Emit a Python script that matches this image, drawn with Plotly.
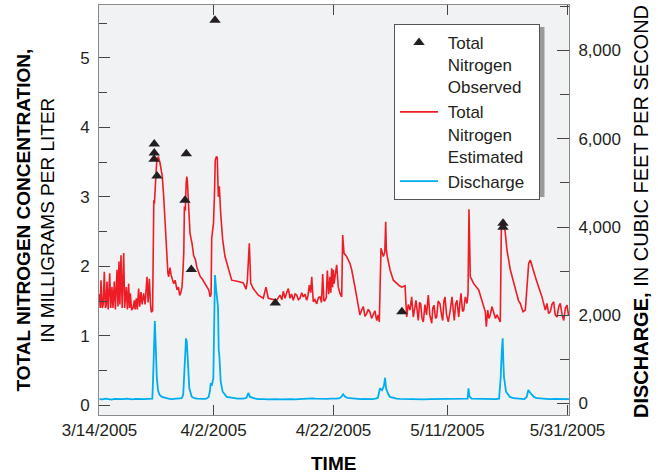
import pandas as pd
import plotly.graph_objects as go

# ---------------- data (days after 3/14/2005, values) ----------------
base_date = pd.Timestamp("2005-03-14")

tn_est_days = [
    0.00, 0.12, 0.25, 0.45, 0.62, 0.80, 0.98, 1.10, 1.25, 1.45, 1.70, 1.88, 2.08, 2.25, 2.47, 2.65,
    2.92, 3.08, 3.25, 3.40, 3.58, 3.78, 4.03, 4.20, 4.47, 4.65, 4.86, 5.00, 5.14, 5.35, 5.60, 5.81,
    5.95, 6.14, 6.30, 6.53, 6.70, 6.92, 7.10, 7.36, 7.60, 7.92, 8.10, 8.31, 8.50, 8.64,
    8.85, 8.97, 9.05, 9.15, 9.25, 9.40, 9.53, 9.80, 10.08, 10.47, 10.70, 10.97, 11.25, 11.40, 11.53,
    11.75, 11.92, 12.10, 12.37, 12.60, 12.92, 13.15, 13.37, 13.55, 13.75, 13.92,
    14.05, 14.15, 14.30, 14.45, 14.55, 14.65, 14.80, 15.08, 15.25, 15.42, 15.70, 15.97, 16.25, 16.53,
    16.80, 17.10, 17.37, 17.70, 18.00, 18.20, 18.45, 18.60, 18.70, 18.85, 19.00, 19.15, 19.30, 19.50,
    19.63, 19.80, 19.97, 20.20, 20.53, 20.92, 21.47, 22.03, 23.13, 23.97, 24.42, 24.63, 24.97, 25.20,
    25.63, 26.47, 27.30, 27.75, 28.13, 28.97, 29.53,
    30.08, 30.40, 30.63, 30.92, 31.20, 31.47, 31.75, 32.00, 32.30, 32.60, 32.87, 33.15, 33.42, 33.70,
    33.97, 34.25, 34.53, 34.75, 34.97, 35.20, 35.37, 35.63, 35.90, 36.20, 36.50, 36.75, 37.00, 37.20,
    37.40, 37.58, 37.80, 37.97, 38.20, 38.42, 38.55, 38.70, 38.85, 38.97, 39.10, 39.25, 39.53, 39.80,
    40.08, 40.37, 40.53, 40.75, 41.20, 41.75, 42.03, 42.58, 43.13, 43.40, 43.70, 43.97, 44.25, 44.53,
    44.80, 45.08, 45.35, 45.63, 45.90, 46.20, 46.45, 46.63, 46.75, 46.92, 47.30, 47.55, 47.70, 47.80,
    47.97, 48.42, 48.97, 49.53, 50.00, 50.37, 50.92, 51.20, 51.45, 51.75, 52.03, 52.30, 52.50, 52.75,
    53.13, 53.35, 53.53, 53.75, 53.97, 54.25, 54.50, 54.80, 55.05, 55.37, 55.55, 55.75, 56.00, 56.20,
    56.45, 56.75, 57.00, 57.20, 57.40, 57.58, 57.85, 58.13, 58.47, 58.75, 59.13, 59.35, 59.58, 59.87,
    60.05, 60.25, 60.50, 60.70, 60.97, 61.25, 61.42, 61.58, 61.80, 62.37, 63.20, 63.75, 64.30, 64.47,
    64.70, 64.90, 65.13, 65.40, 65.70, 66.00, 66.25, 66.53, 66.80, 66.97, 67.20, 67.37, 67.63, 67.92,
    68.47, 69.03, 69.58, 69.85, 70.13, 70.58, 70.97, 71.25, 71.53, 71.80, 72.08, 72.35, 72.63, 73.20,
    73.75, 74.30, 74.58, 74.85, 75.13, 75.40, 75.70, 75.95, 76.25, 76.55, 76.80, 77.10, 77.37, 77.65,
    77.92, 78.15, 78.37,
]
tn_est_mgL = [
    1.60, 1.40, 1.80, 1.40, 1.45, 1.92, 1.40, 1.42, 1.78, 1.38, 1.90, 1.40, 1.70, 1.40, 1.78, 1.38,
    1.95, 1.42, 2.07, 1.45, 2.16, 1.40, 2.19, 1.40, 1.70, 1.38, 1.75, 1.40, 1.61, 1.37, 1.40, 1.51,
    1.38, 1.54, 1.38, 1.68, 1.42, 1.63, 1.45, 1.61, 1.45, 1.85, 1.48, 1.82, 1.45, 1.34,
    1.36, 2.80, 2.95, 2.90, 3.17, 3.30, 3.50, 3.58, 3.49, 3.29, 3.00, 2.52, 1.95, 1.90, 1.85,
    1.98, 1.88, 1.82, 1.75, 1.80, 1.66, 1.70, 1.58, 1.62, 1.70, 1.95,
    2.20, 2.86, 2.80, 3.20, 3.29, 3.22, 2.95, 2.48, 2.40, 2.33, 2.15, 2.10, 1.98, 1.90,
    1.85, 1.82, 1.78, 1.74, 1.68, 1.66, 1.56, 1.60, 2.40, 2.52, 2.62, 3.00, 3.53, 3.58,
    3.56, 3.00, 3.15, 2.76, 2.38, 2.14, 1.95, 1.80, 1.78, 1.76, 1.67, 1.78, 2.33, 1.76,
    1.68, 1.585, 1.54, 1.70, 1.54, 1.52, 1.51,
    1.585, 1.52, 1.64, 1.54, 1.62, 1.68, 1.54, 1.60, 1.51, 1.60, 1.585, 1.52, 1.54, 1.62,
    1.56, 1.60, 1.51, 1.58, 1.73, 1.62, 1.85, 1.49, 1.52, 1.46, 1.55, 1.56, 1.48, 1.89,
    1.50, 1.51, 1.55, 1.94, 1.60, 1.85, 1.62, 1.97, 1.70, 1.95, 1.75, 1.85, 2.02, 1.70,
    1.61, 1.56, 2.45, 2.19, 2.14, 2.04, 1.95, 1.70, 1.44, 1.30, 1.37, 1.42, 1.28, 1.32,
    1.38, 1.34, 1.25, 1.30, 1.36, 1.22, 1.30, 1.20, 1.61, 2.26, 2.14, 2.20, 2.64, 2.25,
    2.14, 1.95, 1.80, 1.75, 1.72, 1.70, 1.72, 1.27, 1.45, 1.37, 1.56, 1.27, 1.40, 1.51,
    1.22, 1.48, 1.46, 1.25, 1.20, 1.45, 1.30, 1.585, 1.30, 1.18, 1.40, 1.44, 1.25, 1.27,
    1.50, 1.46, 1.30, 1.22, 1.50, 1.56, 1.30, 1.20, 1.37, 1.56, 1.22, 1.45, 1.51, 1.27,
    1.45, 1.61, 1.35, 1.37, 1.56, 1.465, 1.61, 2.82, 1.85, 1.75, 1.66, 1.51, 1.345, 1.13,
    1.37, 1.25, 1.30, 1.42, 1.345, 1.25, 1.30, 1.25, 1.20, 2.52, 2.60, 2.67, 2.48, 2.23,
    1.95, 1.75, 1.56, 1.50, 1.465, 1.345, 1.37, 1.75, 2.04, 2.09, 2.00, 1.95, 1.85, 1.70,
    1.56, 1.37, 1.465, 1.32, 1.345, 1.45, 1.49, 1.30, 1.27, 1.42, 1.465, 1.30, 1.22, 1.40,
    1.44, 1.30, 1.35,
]

q_days = [
    0.0, 0.5, 1.0, 1.5, 2.0, 2.5, 3.0, 3.5, 4.0, 4.5, 5.0, 5.5, 6.0, 6.5, 7.0, 7.5, 8.0, 8.5,
    8.80, 8.92, 9.00, 9.12, 9.22, 9.32, 9.45, 9.55, 9.75, 10.0, 10.4, 11.0, 11.5, 12.0, 12.5, 13.0,
    13.5, 13.7, 13.95, 14.08, 14.25, 14.42, 14.55, 14.63, 14.80, 14.97, 15.37, 15.80, 16.3, 16.8,
    17.3, 17.8, 18.2, 18.42, 18.53, 18.75, 18.97, 19.13, 19.25, 19.42, 19.58, 19.75, 19.87, 19.97,
    20.20, 20.53, 21.20, 21.8, 22.5, 23.0, 23.5, 24.0, 24.5, 24.8, 25.1, 25.6, 26.0, 26.5, 27.0,
    27.5, 28.0, 28.5, 29.0, 29.5, 30.0, 30.5, 31.0, 31.5, 32.0, 32.5, 33.0, 33.5, 34.0, 34.5, 35.0,
    35.5, 36.0, 36.5, 37.0, 37.5, 38.0, 38.5, 39.0, 39.5, 40.0, 40.3, 40.6, 40.9, 41.3, 41.8, 42.3,
    43.0, 43.5, 44.0, 44.5, 45.0, 45.5, 46.0, 46.4, 46.75, 47.1, 47.4, 47.6, 47.75, 47.87, 48.1,
    48.4, 49.0, 49.5, 50.0, 51.0, 52.0, 53.0, 54.0, 55.0, 56.0, 57.0, 58.0, 59.0, 60.0, 61.0,
    61.35, 61.5, 61.65, 62.0, 63.0, 64.0, 65.0, 66.0, 66.6, 66.87, 67.05, 67.2, 67.32, 67.42, 67.75,
    68.4, 69.0, 70.0, 70.8, 71.2, 71.47, 71.75, 72.03, 72.4, 72.87, 73.5, 74.0, 75.0, 76.0, 77.0,
    78.0, 78.37,
]
q_cfs = [
    100, 95, 110, 100, 90, 105, 100, 95, 100, 110, 100, 95, 105, 100, 95, 100, 105, 100,
    110, 500, 870, 1300, 1870, 1500, 800, 600, 300, 200, 150, 120, 110, 100, 105, 100,
    110, 120, 200, 570, 1325, 1477, 1400, 1200, 797, 344, 154, 120, 110, 100,
    105, 110, 150, 300, 457, 430, 570, 1930, 2912, 2610, 2307, 2190, 1212, 1100,
    495, 267, 150, 130, 120, 110, 105, 110, 130, 240, 150, 120, 110, 100, 105,
    100, 95, 100, 105, 100, 95, 100, 105, 100, 100, 95, 100, 105, 100, 110, 105,
    115, 110, 105, 110, 100, 105, 110, 105, 110, 120, 150, 210, 160, 130, 120, 110,
    105, 100, 105, 100, 95, 100, 110, 130, 345, 300, 400, 585, 350, 300, 220,
    150, 120, 110, 105, 100, 100, 100, 95, 100, 100, 100, 95, 100, 100, 100,
    110, 345, 160, 110, 105, 100, 100, 100, 110, 608, 1200, 1477, 900, 600, 267,
    150, 120, 105, 100, 150, 306, 250, 200, 150, 120, 110, 105, 100, 105, 100,
    100, 100,
]

tn_obs_days = [9.13, 9.13, 9.10, 9.58, 14.47, 14.25, 15.30, 19.25, 29.30, 50.40, 67.25, 67.25]
tn_obs_mgL = [3.76, 3.63, 3.54, 3.30, 3.62, 2.95, 1.955, 5.54, 1.47, 1.345, 2.62, 2.56]

x_tick_dates = ["2005-03-14", "2005-04-02", "2005-04-22", "2005-05-11", "2005-05-31"]
x_tick_text = ["3/14/2005", "4/2/2005", "4/22/2005", "5/11/2005", "5/31/2005"]
y_tick_vals = [0, 1, 2, 3, 4, 5]
y2_tick_vals = [0, 2000, 4000, 6000, 8000]
y2_tick_text = ["0", "2,000", "4,000", "6,000", "8,000"]

# ---------------- figure ----------------
def to_dates(days):
    return base_date + pd.to_timedelta(days, unit="D")

FONT = "Liberation Sans, Arial, sans-serif"
RED = "#EE1C25"
BLUE = "#00AEEF"
INK = "#231F20"

fig = go.Figure()
fig.add_trace(go.Scatter(
    x=to_dates(q_days), y=q_cfs, yaxis="y2", mode="lines",
    name="&nbsp;Discharge&nbsp;&nbsp;",
    line=dict(color=BLUE, width=1.8), legendrank=3))
fig.add_trace(go.Scatter(
    x=to_dates(tn_est_days), y=tn_est_mgL, mode="lines",
    name="&nbsp;Total<br>&nbsp;Nitrogen<br>&nbsp;Estimated",
    line=dict(color=RED, width=1.6), legendrank=2))
fig.add_trace(go.Scatter(
    x=to_dates(tn_obs_days), y=tn_obs_mgL, mode="markers",
    name="&nbsp;Total<br>&nbsp;Nitrogen<br>&nbsp;Observed",
    marker=dict(symbol="triangle-up", size=10, color=INK), legendrank=1))

tick_font = dict(family=FONT, size=17, color=INK)
PX_W, PX_H = 470, 410
def px_x(p):
    return (p - 99) / PX_W
def px_y(p):
    return (415 - p) / PX_H

fig.update_layout(
    width=658, height=475,
    margin=dict(l=99, r=89, t=5, b=60),
    paper_bgcolor="white",
    plot_bgcolor="#F1F2F4",
    font=dict(family=FONT, size=17, color=INK),
    showlegend=True,
    legend=dict(
        x=px_x(394), y=px_y(24), xanchor="left", yanchor="top",
        bgcolor="white", bordercolor="#555555", borderwidth=1,
        font=dict(family=FONT, size=17, color=INK),
        valign="top", tracegroupgap=0, itemwidth=38,
    ),
    xaxis=dict(
        type="date",
        range=["2005-03-13 22:00", "2005-05-31 06:00"],
        tickvals=x_tick_dates, ticktext=x_tick_text,
        ticks="inside", ticklen=10, tickcolor="#444444", tickwidth=1,
        showline=True, linecolor="#8A8A8A", linewidth=1, mirror="ticks",
        showgrid=False, zeroline=False, tickfont=tick_font,
    ),
    yaxis=dict(
        range=[-0.14, 5.76],
        tickvals=y_tick_vals,
        ticks="inside", ticklen=11, tickcolor="#444444", tickwidth=1,
        minor=dict(tickvals=[0.5, 1.5, 2.5, 3.5, 4.5, 5.5], ticks="inside", ticklen=8,
                   tickcolor="#444444", showgrid=False),
        showline=True, linecolor="#8A8A8A", linewidth=1,
        showgrid=False, zeroline=False, tickfont=tick_font, ticklabelstandoff=5,
    ),
    yaxis2=dict(
        overlaying="y", side="right",
        range=[-260, 9031],
        tickvals=y2_tick_vals, ticktext=y2_tick_text,
        ticks="inside", ticklen=12, tickcolor="#444444", tickwidth=1,
        minor=dict(tickvals=[1000, 3000, 5000, 7000, 9000], ticks="inside", ticklen=9,
                   tickcolor="#444444", showgrid=False),
        showline=True, linecolor="#8A8A8A", linewidth=1,
        showgrid=False, zeroline=False, tickfont=tick_font, ticklabelstandoff=5,
    ),
    shapes=[
        dict(type="rect", xref="paper", yref="paper",
             x0=px_x(397), x1=px_x(544.5), y0=px_y(197), y1=px_y(27),
             fillcolor="#9A9A9A", line=dict(width=0), layer="above"),
    ],
    annotations=[
        dict(text="<b>TOTAL NITROGEN CONCENTRATION,</b><br>IN MILLIGRAMS PER LITER",
             xref="paper", yref="paper", x=px_x(35.5), y=px_y(220),
             xanchor="center", yanchor="middle", textangle=-90, showarrow=False,
             font=dict(family=FONT, size=19, color="black")),
        dict(text="<b>DISCHARGE,</b> IN CUBIC FEET PER SECOND",
             xref="paper", yref="paper", x=px_x(641), y=px_y(212),
             xanchor="center", yanchor="middle", textangle=-90, showarrow=False,
             font=dict(family=FONT, size=20, color="black")),
        dict(text="<b>TIME</b>",
             xref="paper", yref="paper", x=px_x(333), y=px_y(463),
             xanchor="center", yanchor="middle", showarrow=False,
             font=dict(family=FONT, size=19, color="black")),
    ],
)

fig.write_html("out.html")
